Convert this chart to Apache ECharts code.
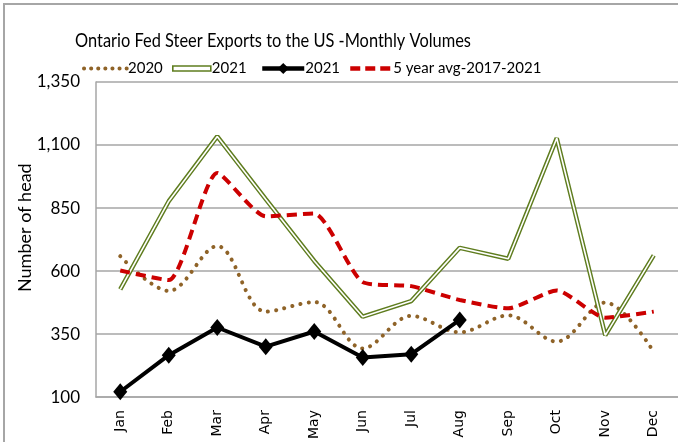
<!DOCTYPE html>
<html>
<head>
<meta charset="utf-8">
<script src="https://cdn.jsdelivr.net/npm/echarts@6/dist/echarts.min.js"></script>
<style>html,body{margin:0;padding:0;background:#fff}#c{width:678px;height:442px}</style>
</head>
<body>
<div id="c"></div>
<script>
var months = ['Jan','Feb','Mar','Apr','May','Jun','Jul','Aug','Sep','Oct','Nov','Dec'];
var yTicks = [100, 350, 600, 850, 1100, 1350];
var v2020 = [659, 521, 699, 439, 477, 293, 422, 357, 424, 320, 475, 279];
var v2021 = [527, 877, 1134, 885, 640, 419, 481, 692, 649, 1127, 345, 662];
var v2021b = [121, 266, 376, 300, 360, 257, 270, 406];
var avg5 = [602, 564, 989, 817, 828, 556, 540, 485, 452, 523, 415, 439];

var FONT = "Lato,'Liberation Sans',sans-serif";
var GREEN = '#5f7d1f', RED = '#cc0000', BROWN = '#8f6328', GRID = '#a6a6a6';

var chart = echarts.init(document.getElementById('c'));
function leg(name, left, w, h, extra) {
  var d = Object.assign({name: name}, extra || {});
  return {data: [d], left: left, top: 61, padding: 0, itemWidth: w, itemHeight: h, itemGap: 0,
    textStyle: {fontFamily: FONT, fontSize: 15, color: '#000', padding: [0,0,0,-4]}};
}
chart.setOption({
  animation: false,
  graphic: [
    {type: 'rect', shape: {x: 4, y: 4, width: 740, height: 500}, style: {fill: 'none', stroke: '#a6a6a6', lineWidth: 2}},
    {type: 'text', x: 75, y: 31, scaleX: 0.82, style: {text: 'Ontario Fed Steer Exports to the US -Monthly Volumes', fontFamily: FONT, fontSize: 20, fill: '#000'}},
    {type: 'text', x: 16, y: 292, rotation: Math.PI / 2, style: {text: 'Number of head', fontFamily: FONT, fontSize: 18, fill: '#000'}}
  ],
  legend: [
    leg('2020', 82, 43, 8, {itemStyle: {opacity: 0}, lineStyle: {width: 4, type: [0.1, 7], cap: 'round', color: BROWN}}),
    leg('2021', 172, 38, 5, {icon: 'rect', itemStyle: {color: '#fff', borderColor: GREEN, borderWidth: 1.6}}),
    leg('2021 ', 260, 42, 14, {lineStyle: {width: 4.5, color: '#000'}}),
    leg('5 year avg-2017-2021', 348, 42, 8, {itemStyle: {opacity: 0}, lineStyle: {width: 4.5, type: [10, 5], color: RED}})
  ],
  grid: {left: 96, top: 82, width: 584, height: 316, containLabel: false},
  xAxis: {
    type: 'category', data: months, boundaryGap: true,
    axisLine: {lineStyle: {color: GRID, width: 1.5}},
    axisTick: {show: false},
    axisLabel: {rotate: 90, interval: 0, margin: 13, fontFamily: 'DejaVu Sans', fontSize: 14, color: '#000'}
  },
  yAxis: {
    type: 'value', min: yTicks[0], max: yTicks[yTicks.length - 1], interval: 250,
    axisLine: {show: true, lineStyle: {color: GRID, width: 1.5}},
    axisTick: {show: false},
    splitLine: {lineStyle: {color: GRID, width: 1.5}},
    axisLabel: {margin: 16, fontFamily: FONT, fontSize: 17, color: '#000',
      formatter: function (v) { return v.toLocaleString('en-US'); }}
  },
  series: [
    {name: '2020', type: 'line', data: v2020, smooth: 0.35, symbol: 'none',
      lineStyle: {color: BROWN, width: 4, type: [0.1, 8.2], cap: 'round'}, itemStyle: {color: BROWN}},
    {name: '2021', type: 'line', data: v2021, symbol: 'none',
      lineStyle: {color: GREEN, width: 4.5}, itemStyle: {color: GREEN}},
    {name: 'g-inner', type: 'line', data: v2021, symbol: 'none', silent: true,
      lineStyle: {color: '#fff', width: 1.6}},
    {name: '2021 ', type: 'line', data: v2021b, symbol: 'diamond', symbolSize: [14, 17],
      lineStyle: {color: '#000', width: 4}, itemStyle: {color: '#000'}},
    {name: '5 year avg-2017-2021', type: 'line', data: avg5, smooth: 0.2, symbol: 'none',
      lineStyle: {color: RED, width: 4, type: [10, 6]}, itemStyle: {color: RED}}
  ]
});
</script>
</body>
</html>
